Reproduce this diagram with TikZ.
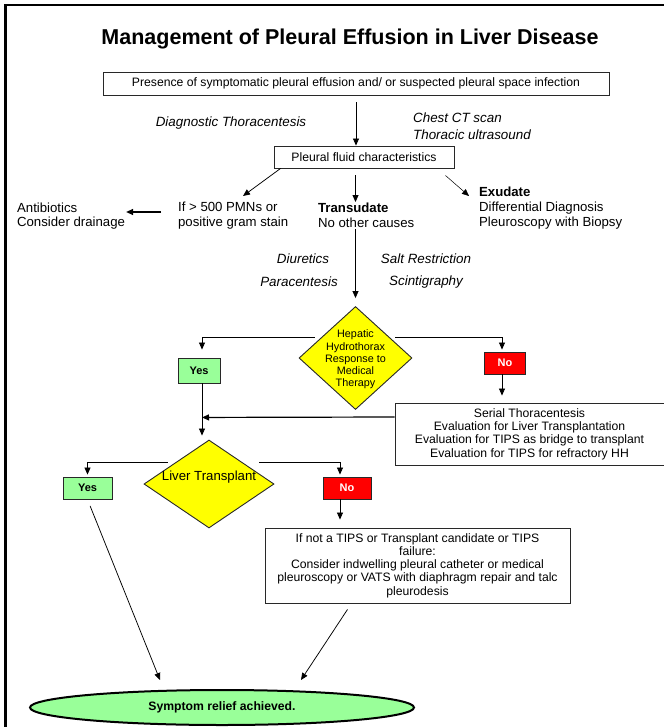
\documentclass[tikz,border=0pt]{standalone}
\usepackage{fontspec}
\setmainfont{Liberation Sans}
\usetikzlibrary{shapes.geometric,arrows.meta,calc}

\definecolor{yesgreen}{RGB}{153,255,153}
\definecolor{nored}{RGB}{255,0,0}
\definecolor{diayellow}{RGB}{255,255,0}
\definecolor{edgegray}{RGB}{40,40,40}

\tikzset{every picture/.style={line width=0.75pt}}

\begin{document}
\begin{tikzpicture}[x=1pt,y=1pt,yscale=-1,xscale=1,
	box/.style={draw=edgegray, line width=0.9pt, inner sep=0.75pt, align=center, font=\fontsize{12.2}{13.3}\selectfont},
	lbl/.style={inner sep=0.75pt, align=left, font=\fontsize{13.2}{15}\selectfont},
	note/.style={inner sep=0.75pt, align=left, font=\fontsize{13.4}{17}\selectfont\itshape},
	yesbox/.style={draw=edgegray, line width=0.9pt, fill=yesgreen, inner sep=0pt, font=\fontsize{11}{13}\selectfont\bfseries},
	nobox/.style={draw=edgegray, line width=0.9pt, fill=nored, text=white, inner sep=0pt, font=\fontsize{11}{13}\selectfont\bfseries},
	dia/.style={diamond, draw=edgegray, line width=0.9pt, fill=diayellow, inner sep=0pt},
	arr/.style={-{Triangle[length=7pt,width=6pt]}}]
		\useasboundingbox (0,0) rectangle (663,727);
		
		%Frame
		\draw [line width=2.6pt] (5.5,728) -- (5.5,5) -- (664,5) ;
		
		%Title
		\node [inner sep=0pt, font=\fontsize{21.5}{24}\selectfont\bfseries] (title) at (350,39) {Management of Pleural Effusion in Liver Disease};
		
		%Shape: Rectangle
		\node [box, minimum width=506, minimum height=23] (presence) at (356,83.5) {Presence of symptomatic pleural effusion and/ or suspected pleural space infection};
		%Shape: Rectangle
		\node [box, minimum width=180, minimum height=22] (pleural) at (364,157) {Pleural fluid characteristics};
		
		\node [note] (diag) at (231,123) {Diagnostic Thoracentesis};
		\node [note, anchor=west] (imaging) at (412,126.5) {Chest CT scan\\Thoracic ultrasound};
		
		\node [lbl, anchor=west] (pmn) at (177,215.5) {If > 500 PMNs or\\positive gram stain};
		\node [lbl, anchor=west, font=\fontsize{13.2}{14}\selectfont] (abx) at (16,216) {Antibiotics\\Consider drainage};
		\node [lbl, anchor=west] (trans) at (317,215.5) {\textbf{Transudate}\\No other causes};
		\node [lbl, anchor=west] (exu) at (478,208) {\textbf{Exudate}\\Differential Diagnosis\\Pleuroscopy with Biopsy};
		\coordinate (pmn-in) at (243,196);
		\coordinate (exu-in) at (469,196);
		
		\node [note] (diuretics) at (303,259) {Diuretics};
		\node [note] (paracentesis) at (299,282) {Paracentesis};
		\node [note] (salt) at (426,259) {Salt Restriction};
		\node [note] (scinti) at (426,282) {Scintigraphy};
		
		%Shape: Diamond
		\node [dia, minimum width=113, minimum height=103] (hh) at (355.5,358) {};
		\node [inner sep=0pt, align=center, font=\fontsize{10.8}{12.2}\selectfont] (hhtext) at (355.5,359.5) {Hepatic\\Hydrothorax\\Response to\\Medical\\Therapy};
		
		\node [yesbox, minimum width=42, minimum height=25] (yes1) at (199,370.5) {Yes};
		\node [nobox, minimum width=41, minimum height=22] (no1) at (505,363) {No};
		
		%Shape: Rectangle
		\node [box, minimum width=269, minimum height=62] (serial) at (529.5,434) {Serial Thoracentesis\\Evaluation for Liver Transplantation\\Evaluation for TIPS as bridge to transplant\\Evaluation for TIPS for refractory HH};
		
		%Shape: Diamond
		\node [dia, minimum width=130, minimum height=88] (lt) at (209,484) {};
		\node [inner sep=0pt, font=\fontsize{13.2}{15}\selectfont] (lttext) at (209,477) {Liver Transplant};
		
		\node [yesbox, minimum width=49, minimum height=22] (yes2) at (87.5,488) {Yes};
		\node [nobox, minimum width=48, minimum height=22] (no2) at (347,488) {No};
		
		%Shape: Rectangle
		\node [box, minimum width=305, minimum height=75] (tips) at (417.5,565.5) {If not a TIPS or Transplant candidate or TIPS\\failure:\\Consider indwelling pleural catheter or medical\\pleuroscopy or VATS with diaphragm repair and talc\\pleurodesis};
		
		%Shape: Ellipse
		\node [ellipse, draw, line width=2pt, fill=yesgreen, inner sep=0pt, minimum width=384, minimum height=35, font=\fontsize{12.2}{14}\selectfont\bfseries] (relief) at (222,707.5) {Symptom relief achieved.};
		
		%Connectors
		\draw [arr, shorten <=7pt] (presence.south) -- (presence.south |- pleural.north) ;
		\draw [arr] ($(pleural.south west)+(7,0)$) -- (pmn-in) ;
		\draw [arr, shorten <=7pt] (hh.north |- pleural.south) -- (hh.north |- trans.north) ;
		\draw [arr, line width=0.5pt] ($(pleural.south east)+(-9,7)$) -- (exu-in) ;
		\draw [arr, line width=1.2pt] ($(pmn.west)+(-16,-3.5)$) -- ($(abx.east)+(0,-4)$) ;
		\draw [arr, shorten >=8pt] (hh.north |- trans.south) -- (hh.north) ;
		
		\draw [arr] ($(hh.west)+(16,-21)$) -| ($(yes1.north)+(3,-8)$) ;
		\draw [arr] ($(hh.east)+(-17,-21)$) -| ($(no1.north)+(-3,-2)$) ;
		\draw [arr, shorten >=7pt] ([xshift=-3pt]no1.south) -- ([xshift=-3pt]no1.south |- serial.north) ;
		\draw [arr, line width=1.2pt] ($(serial.west)+(0,-17)$) -- ($(yes1.south)+(3,34)$) ;
		\draw [arr, shorten >=4pt] ([xshift=3pt]yes1.south) -- ([xshift=3pt]yes1.south |- lt.north) ;
		
		\draw [arr] ($(lt.west)+(24,-22)$) -| ($(yes2.north)+(0,-2)$) ;
		\draw [arr] ($(lt.east)+(-15,-22)$) -| ($(no2.north)+(-7,-2)$) ;
		\draw [arr, shorten >=8pt] ([xshift=-7pt]no2.south) -- ([xshift=-7pt]no2.south |- tips.north) ;
		
		\draw [arr, shorten <=7pt] (yes2.south) -- ($(relief.north)+(-62,-9)$) ;
		\draw [arr] ($(tips.south)+(-70,6)$) -- ($(relief.north)+(79,-9)$) ;
		
\end{tikzpicture}
\end{document}
